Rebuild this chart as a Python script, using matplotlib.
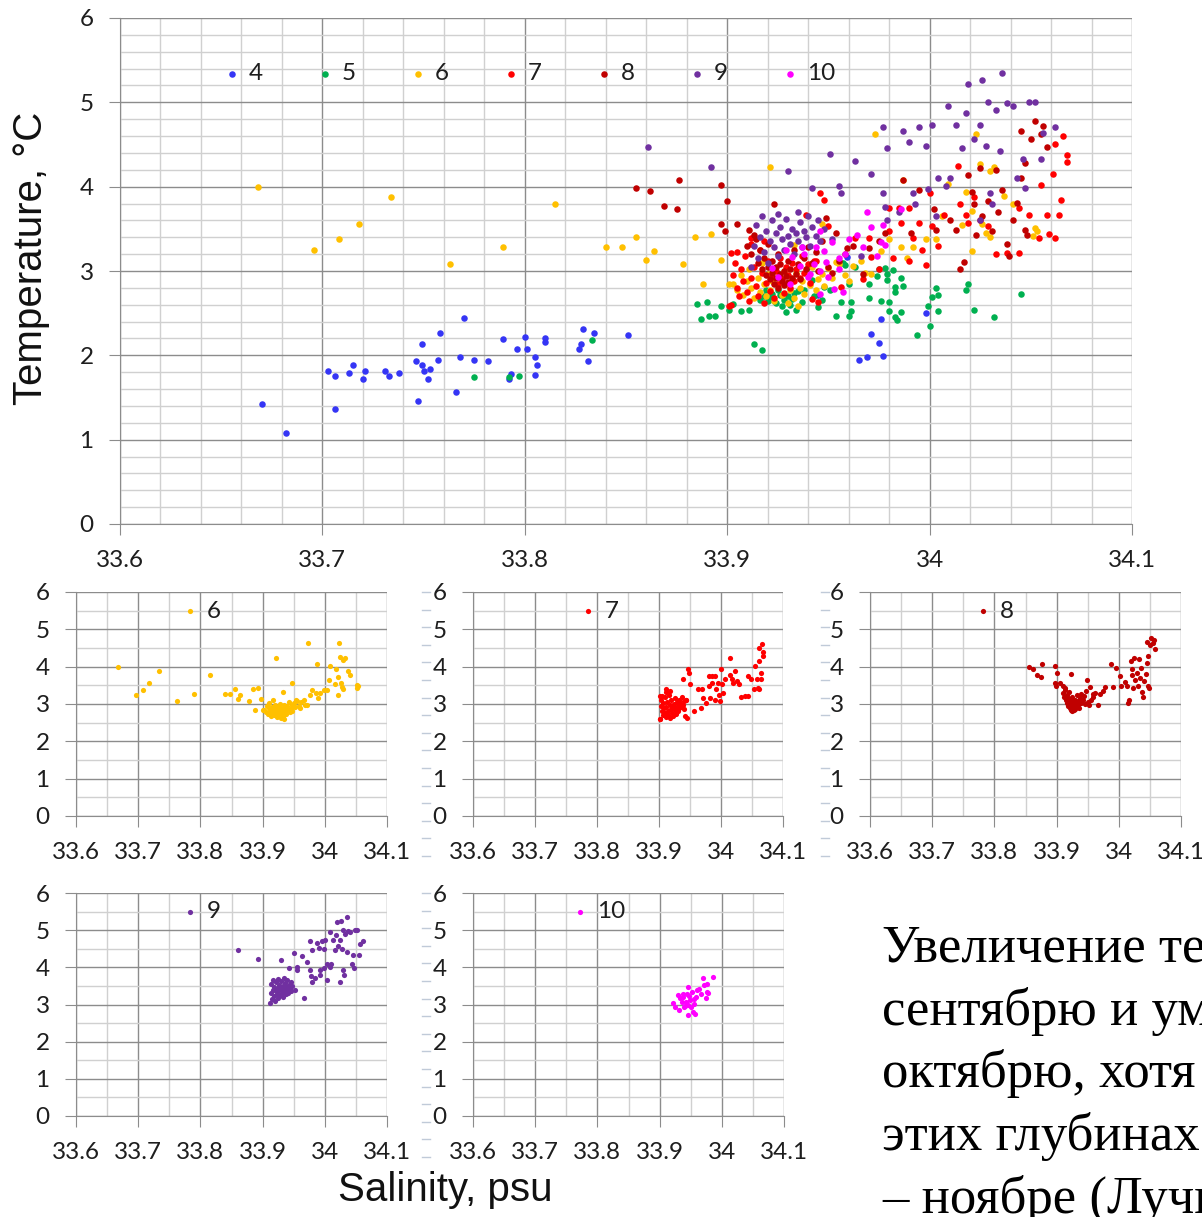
import matplotlib.pyplot as plt
from matplotlib.ticker import MultipleLocator, FuncFormatter
from matplotlib.lines import Line2D

# T-S данные по месяцам (соленость, psu / температура, °C)
sal_4 = [33.670, 33.682, 33.703, 33.706, 33.706, 33.713, 33.715, 33.720, 33.721, 33.731,
         33.733, 33.738, 33.746, 33.747, 33.749, 33.749, 33.750, 33.752, 33.753, 33.757,
         33.758, 33.766, 33.768, 33.770, 33.775, 33.782, 33.789, 33.793, 33.792, 33.796,
         33.800, 33.801, 33.805, 33.805, 33.806, 33.810, 33.810, 33.827, 33.828, 33.829,
         33.831, 33.834, 33.851, 33.945, 33.959, 33.965, 33.969, 33.971, 33.975, 33.976,
         33.977, 33.998]
temp_4 = [1.42, 1.08, 1.82, 1.76, 1.36, 1.79, 1.88, 1.72, 1.81, 1.82,
          1.76, 1.79, 1.93, 1.46, 2.14, 1.88, 1.81, 1.72, 1.84, 1.95,
          2.26, 1.56, 1.98, 2.44, 1.95, 1.93, 2.19, 1.78, 1.72, 2.07,
          2.22, 2.07, 1.98, 1.77, 1.88, 2.20, 2.16, 2.07, 2.14, 2.31,
          1.93, 2.26, 2.24, 2.71, 3.17, 1.94, 1.98, 2.25, 2.15, 2.43,
          1.99, 2.50]

sal_5 = [33.775, 33.792, 33.797, 33.833, 33.885, 33.890, 33.887, 33.891, 33.894, 33.897,
         33.901, 33.903, 33.907, 33.911, 33.913, 33.917, 33.918, 33.919, 33.920, 33.922,
         33.923, 33.925, 33.927, 33.929, 33.930, 33.932, 33.934, 33.935, 33.938, 33.940,
         33.942, 33.945, 33.948, 33.951, 33.954, 33.956, 33.957, 33.958, 33.960, 33.961,
         33.961, 33.960, 33.963, 33.970, 33.970, 33.974, 33.975, 33.976, 33.978, 33.979,
         33.979, 33.980, 33.980, 33.982, 33.983, 33.983, 33.983, 33.984, 33.986, 33.986,
         33.987, 33.994, 33.999, 34.000, 34.001, 34.003, 34.004, 34.004, 34.018, 34.019,
         34.022, 34.032, 34.045, 33.921, 33.924, 33.926, 33.928, 33.931, 33.933, 33.916,
         33.937, 33.943, 33.947]
temp_5 = [1.74, 1.74, 1.76, 2.18, 2.61, 2.63, 2.43, 2.47, 2.47, 2.59,
          2.54, 2.61, 2.52, 2.54, 2.14, 2.06, 2.70, 2.77, 2.64, 2.73,
          2.65, 2.77, 2.59, 2.51, 2.70, 2.67, 2.54, 2.76, 2.78, 3.05,
          2.89, 2.57, 2.81, 2.78, 2.47, 2.63, 3.09, 3.07, 2.47, 2.53,
          2.63, 2.84, 3.05, 2.85, 2.68, 2.94, 3.02, 2.65, 3.03, 2.89,
          2.96, 2.63, 2.53, 3.01, 2.81, 2.75, 2.45, 2.42, 2.51, 2.92,
          2.82, 2.24, 2.59, 2.35, 2.69, 2.80, 2.71, 2.53, 2.78, 2.84,
          2.54, 2.45, 2.73, 2.68, 2.62, 2.72, 2.66, 2.60, 2.74, 2.66,
          2.63, 2.70, 2.66]

sal_6 = [33.668, 33.696, 33.708, 33.718, 33.734, 33.763, 33.789, 33.815, 33.840, 33.848,
         33.855, 33.860, 33.864, 33.878, 33.884, 33.888, 33.892, 33.897, 33.901, 33.921,
         33.935, 33.933, 33.947, 33.954, 33.960, 33.971, 33.973, 33.976, 33.980, 33.986,
         33.987, 33.989, 33.992, 33.998, 34.003, 34.006, 34.009, 34.016, 34.018, 34.021,
         34.021, 34.023, 34.025, 34.026, 34.028, 34.030, 34.032, 34.030, 34.037, 34.041,
         34.051, 34.052, 34.053,
         33.903, 33.905, 33.907, 33.908, 33.910, 33.911, 33.912, 33.913, 33.915, 33.916,
         33.917, 33.918, 33.919, 33.920, 33.921, 33.922, 33.923, 33.925, 33.926, 33.927,
         33.928, 33.929, 33.930, 33.931, 33.932, 33.933, 33.934, 33.936, 33.937, 33.938,
         33.940, 33.941, 33.942, 33.944, 33.945, 33.947, 33.948, 33.950, 33.952, 33.955,
         33.958, 33.962, 33.966, 33.968]
temp_6 = [4.00, 3.25, 3.38, 3.56, 3.88, 3.08, 3.28, 3.79, 3.28, 3.28,
          3.40, 3.13, 3.24, 3.08, 3.40, 2.84, 3.44, 3.13, 2.84, 4.23,
          2.59, 3.31, 3.56, 3.11, 2.88, 2.97, 4.63, 3.24, 3.38, 3.29,
          4.08, 3.16, 3.29, 3.38, 3.38, 3.65, 4.03, 3.54, 3.94, 3.71,
          3.24, 4.63, 4.27, 3.56, 3.45, 4.18, 4.23, 3.40, 3.89, 3.79,
          3.42, 3.51, 3.47,
          2.85, 2.78, 2.95, 2.72, 2.88, 3.02, 2.80, 2.68, 2.92, 2.75,
          3.10, 2.85, 2.70, 2.97, 2.78, 2.88, 2.65, 2.82, 2.93, 2.72,
          3.00, 2.85, 2.62, 2.77, 2.90, 2.68, 2.98, 2.80, 2.88, 2.73,
          2.95, 2.83, 3.05, 2.78, 2.90, 2.97, 2.82, 3.03, 2.92, 3.08,
          2.95, 3.06, 3.12, 2.98]

sal_7 = [33.901, 33.902, 33.912, 33.939, 33.944, 33.942, 33.945, 33.946, 33.948, 33.950,
         33.956, 33.963, 33.967, 33.970, 33.971, 33.975, 33.980, 33.985, 33.990, 33.980,
         33.982, 33.986, 33.990, 33.992, 33.995, 33.996, 33.998, 34.000, 34.001, 34.004,
         34.007, 34.014, 34.015, 34.018, 34.019, 34.022, 34.025, 34.029, 34.033, 34.038,
         34.044, 34.044, 34.049, 34.054, 34.055, 34.058, 34.059, 34.061, 34.062, 34.065,
         34.066, 34.068, 34.068, 34.064, 34.062,
         33.902, 33.903, 33.904, 33.905, 33.906, 33.907, 33.908, 33.909, 33.910, 33.911,
         33.912, 33.913, 33.914, 33.915, 33.916, 33.917, 33.918, 33.919, 33.920, 33.921,
         33.922, 33.923, 33.924, 33.925, 33.926, 33.927, 33.928, 33.929, 33.930, 33.931,
         33.932, 33.933, 33.934, 33.936, 33.937, 33.938, 33.940, 33.941, 33.943, 33.912,
         33.918, 33.905]
temp_7 = [2.59, 3.21, 3.39, 3.66, 3.12, 2.67, 2.63, 3.93, 3.84, 3.53,
          2.81, 3.39, 2.90, 3.39, 3.17, 3.02, 3.75, 3.75, 3.75, 3.48,
          3.16, 3.57, 3.12, 3.39, 3.57, 3.25, 3.07, 3.93, 3.53, 3.30,
          3.66, 4.24, 3.79, 3.66, 3.57, 3.88, 3.61, 3.53, 3.20, 3.21,
          3.21, 3.75, 3.66, 3.39, 4.02, 3.66, 3.44, 4.15, 4.51, 3.84,
          4.60, 4.38, 4.29, 3.66, 3.39,
          2.60, 2.95, 3.10, 2.80, 2.70, 3.02, 2.88, 3.18, 2.75, 2.65,
          2.92, 3.05, 2.82, 2.70, 3.25, 2.98, 2.62, 2.86, 3.12, 2.76,
          2.93, 2.68, 3.00, 2.84, 3.15, 2.90, 2.74, 3.05, 2.95, 2.80,
          3.10, 2.88, 3.02, 2.92, 3.18, 2.98, 3.08, 2.86, 3.12, 3.32,
          3.35, 3.22]

sal_8 = [33.855, 33.862, 33.869, 33.875, 33.876, 33.897, 33.900, 33.897, 33.899, 33.905,
         33.911, 33.913, 33.923, 33.949, 33.954, 33.959, 33.967, 33.970, 33.975, 33.978,
         33.987, 33.991, 33.995, 34.002, 34.003, 34.010, 34.013, 34.015, 34.017, 34.019,
         34.021, 34.022, 34.023, 34.025, 34.026, 34.029, 34.031, 34.033, 34.034, 34.036,
         34.038, 34.039, 34.041, 34.043, 34.045, 34.045, 34.047, 34.047, 34.048, 34.050,
         34.052, 34.055, 34.058, 34.056,
         33.910, 33.912, 33.914, 33.915, 33.916, 33.917, 33.918, 33.919, 33.920, 33.920,
         33.921, 33.922, 33.922, 33.923, 33.924, 33.924, 33.925, 33.925, 33.926, 33.926,
         33.927, 33.928, 33.928, 33.929, 33.930, 33.930, 33.931, 33.932, 33.933, 33.934,
         33.935, 33.936, 33.938, 33.939, 33.940, 33.942, 33.944, 33.945, 33.947, 33.950,
         33.952, 33.955, 33.958, 33.962]
temp_8 = [3.98, 3.95, 3.77, 3.73, 4.08, 4.02, 3.83, 3.56, 3.47, 3.56,
          3.49, 3.43, 3.80, 3.63, 3.45, 3.27, 2.97, 3.27, 3.36, 3.45,
          4.08, 3.45, 3.96, 3.74, 3.49, 3.60, 3.49, 3.02, 3.11, 4.14,
          3.94, 3.79, 3.43, 4.22, 3.65, 3.83, 3.47, 4.20, 3.70, 3.96,
          3.32, 3.18, 3.61, 3.81, 4.10, 4.66, 4.28, 3.49, 3.43, 4.57,
          4.78, 4.63, 4.47, 4.72,
          3.30, 3.20, 3.38, 3.10, 3.25, 3.02, 3.15, 2.95, 3.32, 3.05,
          2.90, 3.12, 2.98, 2.85, 3.05, 2.92, 3.20, 2.80, 2.97, 3.08,
          2.88, 3.00, 2.83, 2.94, 3.12, 2.87, 3.02, 2.92, 3.25, 2.97,
          3.08, 2.90, 3.15, 3.02, 3.28, 3.10, 3.22, 3.00, 3.35, 3.05,
          2.98, 3.12, 3.20, 3.30]

sal_9 = [33.861, 33.892, 33.930, 33.951, 33.942, 33.955, 33.956, 33.963, 33.966, 33.952,
         33.971, 33.977, 33.979, 33.977, 33.978, 33.979, 33.985, 33.987, 33.990, 33.992,
         33.993, 33.995, 33.998, 33.999, 34.001, 34.003, 34.004, 34.008, 34.009, 34.010,
         34.013, 34.016, 34.018, 34.019, 34.022, 34.025, 34.026, 34.028, 34.029, 34.030,
         34.031, 34.033, 34.035, 34.036, 34.038, 34.041, 34.043, 34.046, 34.047, 34.049,
         34.052, 34.055, 34.056, 34.062, 34.025,
         33.912, 33.913, 33.914, 33.915, 33.916, 33.917, 33.918, 33.919, 33.920, 33.921,
         33.922, 33.923, 33.924, 33.925, 33.926, 33.927, 33.928, 33.929, 33.930, 33.931,
         33.932, 33.933, 33.934, 33.935, 33.936, 33.937, 33.938, 33.939, 33.940, 33.941,
         33.942, 33.944, 33.945, 33.946, 33.948, 33.925, 33.935]
temp_9 = [4.47, 4.23, 4.19, 4.39, 3.99, 4.01, 3.92, 4.30, 3.18, 3.38,
          4.15, 4.71, 4.46, 3.92, 3.76, 3.61, 3.70, 4.66, 4.53, 3.92,
          3.79, 4.71, 4.48, 3.97, 4.73, 3.65, 4.10, 4.01, 4.96, 4.10,
          4.73, 4.46, 4.87, 5.22, 4.57, 4.73, 5.26, 4.48, 5.00, 3.92,
          3.79, 4.91, 4.42, 5.35, 4.99, 4.96, 4.10, 4.33, 3.99, 5.00,
          5.00, 4.33, 4.64, 4.71, 3.61,
          3.05, 3.30, 3.55, 3.15, 3.40, 3.65, 3.22, 3.48, 3.10, 3.35,
          3.60, 3.28, 3.45, 3.18, 3.52, 3.38, 3.25, 3.62, 3.42, 3.32,
          3.50, 3.20, 3.45, 3.35, 3.58, 3.28, 3.48, 3.40, 3.65, 3.30,
          3.52, 3.42, 3.60, 3.35, 3.50, 3.68, 3.70]

sal_10 = [33.922, 33.925, 33.929, 33.931, 33.936, 33.938, 33.941, 33.944, 33.946, 33.946,
          33.949, 33.950, 33.952, 33.953, 33.955, 33.957, 33.958, 33.960, 33.964, 33.967,
          33.969, 33.971, 33.974, 33.976, 33.977, 33.978, 33.986, 33.932, 33.940, 33.943,
          33.948, 33.955, 33.946, 33.937]
temp_10 = [3.04, 2.93, 3.25, 2.84, 3.06, 3.20, 2.97, 3.28, 3.47, 2.73,
           3.11, 2.93, 3.34, 2.79, 3.02, 2.75, 3.20, 3.38, 3.43, 3.29,
           3.70, 3.52, 3.18, 3.34, 3.55, 3.31, 3.73, 3.17, 2.93, 3.08,
           3.24, 3.15, 3.00, 3.29]

months = ['4', '5', '6', '7', '8', '9', '10']
series = {
    '4': (sal_4, temp_4), '5': (sal_5, temp_5), '6': (sal_6, temp_6),
    '7': (sal_7, temp_7), '8': (sal_8, temp_8), '9': (sal_9, temp_9),
    '10': (sal_10, temp_10),
}
colors = {'4': '#3535F5', '5': '#00B050', '6': '#FFC000', '7': '#FF0000',
          '8': '#C00000', '9': '#7030A0', '10': '#FF00FF'}

plt.rcParams['font.family'] = 'Lato'

W, H = 1202, 1217
fig = plt.figure(figsize=(W / 100, H / 100), dpi=100)


def add_ax(left, top, right, bottom):
    return fig.add_axes([left / W, 1 - bottom / H, (right - left) / W, (bottom - top) / H])


def style(ax, xminor, yminor):
    ax.set_xlim(33.6, 34.1)
    ax.set_ylim(0, 6)
    ax.xaxis.set_major_locator(MultipleLocator(0.1))
    ax.xaxis.set_minor_locator(MultipleLocator(xminor))
    ax.yaxis.set_major_locator(MultipleLocator(1))
    ax.yaxis.set_minor_locator(MultipleLocator(yminor))
    ax.xaxis.set_major_formatter(FuncFormatter(lambda v, p: f'{round(v, 2):g}'))
    ax.grid(which='major', color='#8c8c8c', lw=1.0)
    ax.grid(which='minor', color='#d0d0d0', lw=1.0)
    ax.set_axisbelow(True)
    for s in ['top', 'right']:
        ax.spines[s].set_visible(False)
    for s in ['left', 'bottom']:
        ax.spines[s].set_color('#8c8c8c')
    ax.tick_params(which='major', length=8, color='#8c8c8c', labelsize=17.5,
                   labelcolor='#1e1e1e', pad=11)
    ax.tick_params(which='minor', length=0)


# общий график
ax = add_ax(120, 18, 1132, 524)
style(ax, 0.02, 0.2)
for m in months:
    x, y = series[m]
    ax.scatter(x, y, s=22, color=colors[m], linewidths=0, label=m, zorder=3)
leg = ax.legend(ncol=7, loc='center left', bbox_to_anchor=(0.1018, 0.89), frameon=False,
                fontsize=17.5, handlelength=0.75, handletextpad=0.3, columnspacing=2.2,
                borderpad=0, borderaxespad=0, scatterpoints=1)
for t in leg.get_texts():
    t.set_color('#1e1e1e')

# отдельные месяцы
panels = [('6', (76, 592, 387, 816), 0.338), ('7', (473, 592, 783, 816), 0.342),
          ('8', (870, 592, 1181, 816), 0.335), ('9', (76, 893, 387, 1116), 0.338),
          ('10', (473, 893, 784, 1116), 0.316)]
for m, box, lx in panels:
    a = add_ax(*box)
    style(a, 0.05, 0.5)
    x, y = series[m]
    a.scatter(x, y, s=14, color=colors[m], linewidths=0, label=m, zorder=3)
    lg = a.legend(loc='center left', bbox_to_anchor=(lx, 0.915), frameon=False,
                  fontsize=17.5, handlelength=0.75, handletextpad=0.3,
                  borderpad=0, borderaxespad=0, scatterpoints=1)
    for t in lg.get_texts():
        t.set_color('#1e1e1e')

# светлые штрихи слева от шкал
for x0, top in [(422, 592), (821, 592), (422, 893)]:
    for i in range(16):
        yy = 1 - (top + i * 17.6) / H
        fig.add_artist(Line2D([x0 / W, (x0 + 8) / W], [yy, yy], color='#c0cad8', lw=1.0))

fig.text(31 / W, 1 - 258 / H, 'Temperature, °C', rotation=90, ha='center', va='center',
         fontsize=29, family='Liberation Sans', color='#111111')
fig.text(445 / W, 1 - 1190 / H, 'Salinity, psu', ha='center', va='center',
         fontsize=29, family='Liberation Sans', color='#111111')

lines = ['Увеличение температуры к', 'сентябрю и уменьшение к', 'октябрю, хотя на',
         'этих глубинах максимум', '– ноябре (Лучин']
for i, s in enumerate(lines):
    fig.text(882 / W, 1 - (962 + i * 62.7) / H, s, ha='left', va='baseline',
             fontsize=38, family='Liberation Serif', color='black')

fig.savefig('out.png', dpi=100)
